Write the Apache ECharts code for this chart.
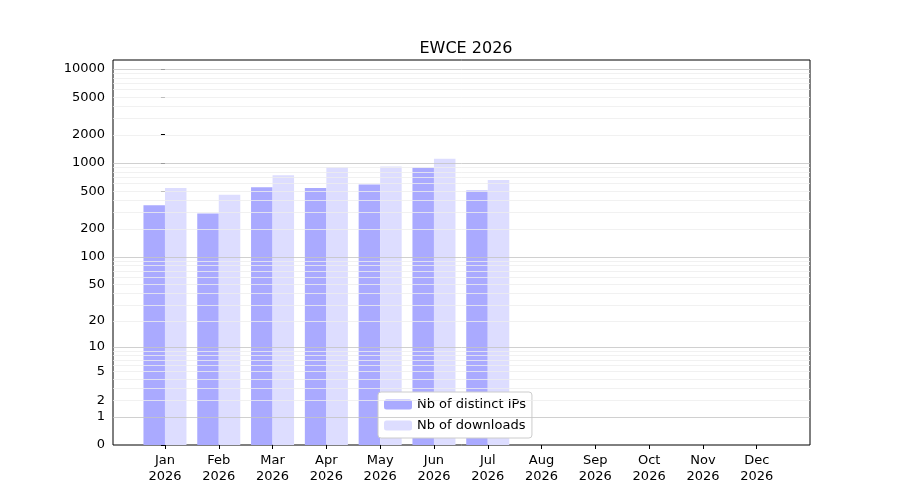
<!DOCTYPE html>
<html><head><meta charset="utf-8">
<script src="https://cdn.jsdelivr.net/npm/echarts@6/dist/echarts.min.js"></script>
<style>body{margin:0}#c{width:900px;height:500px}</style>
</head><body><div id="c"></div>
<script>
var months = ['Jan','Feb','Mar','Apr','May','Jun','Jul','Aug','Sep','Oct','Nov','Dec'];
var year = '2026';
var distinctIPs = [355, 290, 550, 540, 590, 890, 510];
var downloads = [540, 460, 740, 900, 920, 1110, 660];
var yTicks = [0, 1, 2, 5, 10, 20, 50, 100, 200, 500, 1000, 2000, 5000, 10000];

// y scale looks like log10(1 + v)
function t(v) { return Math.log10(1 + v); }

var majors = [1, 10, 100, 1000, 10000];
var minors = [];
[1, 10, 100, 1000, 10000].forEach(function (d) {
    for (var k = 2; k <= 9; k++) if (d * k < 13000) minors.push(d * k);
});
var gridLines = minors.map(function (v) {
    return {yAxis: t(v), lineStyle: {color: '#eeeeee', width: 0.8, type: 'solid'}};
}).concat(majors.map(function (v) {
    return {yAxis: t(v), lineStyle: {color: '#c4c4c4', width: 0.8, type: 'solid'}};
}));

var myChart = echarts.init(document.getElementById('c'));
var option = {
    animation: false,
    textStyle: {fontFamily: 'DejaVu Sans'},
    title: {text: 'EWCE 2026', left: 461, top: 36, textAlign: 'center',
        textStyle: {fontSize: 16, fontWeight: 'normal', color: '#000', fontFamily: 'DejaVu Sans'}},
    grid: {left: 113, top: 60, width: 697, height: 385, show: true, borderColor: '#000', borderWidth: 1},
    legend: {
        orient: 'vertical', left: 378, top: 392, itemWidth: 28, itemHeight: 10, itemGap: 8,
        backgroundColor: '#fff', borderColor: '#ccc', borderWidth: 1, borderRadius: 3, padding: [6, 6, 6, 6],
        textStyle: {fontSize: 13, color: '#000'},
        data: ['Nb of distinct IPs', 'Nb of downloads']
    },
    xAxis: {
        type: 'value', min: -0.966, max: 11.99,
        splitLine: {show: false},
        axisLine: {show: false},
        axisTick: {show: true, customValues: months.map(function (m, i) { return i; }), lineStyle: {color: '#000'}, length: 4},
        axisLabel: {customValues: months.map(function (m, i) { return i; }), color: '#000', fontSize: 13, lineHeight: 16,
            formatter: function (v) { return months[Math.round(v)] + '\n' + year; }}
    },
    yAxis: {
        type: 'value', min: 0, max: 4.096,
        splitLine: {show: false},
        axisLine: {show: false},
        axisTick: {show: true, customValues: yTicks.map(t), lineStyle: {color: '#000'}, length: 4},
        axisLabel: {customValues: yTicks.map(t), color: '#000', fontSize: 13,
            formatter: function (v) { return String(Math.round(Math.pow(10, v) - 1)); }}
    },
    series: [
        {name: 'Nb of distinct IPs', type: 'bar', barWidth: 21.5, barGap: '-100%',
            itemStyle: {color: '#aaaaff'},
            data: distinctIPs.map(function (v, i) { return [i - 0.2, t(v)]; }),
            markLine: {silent: true, symbol: 'none', label: {show: false}, data: gridLines}, z: 3},
        {name: 'Nb of downloads', type: 'bar', barWidth: 21.5,
            itemStyle: {color: '#ddddff'},
            data: downloads.map(function (v, i) { return [i + 0.2, t(v)]; }), z: 3}
    ]
};
myChart.setOption(option);
</script>
</body></html>
